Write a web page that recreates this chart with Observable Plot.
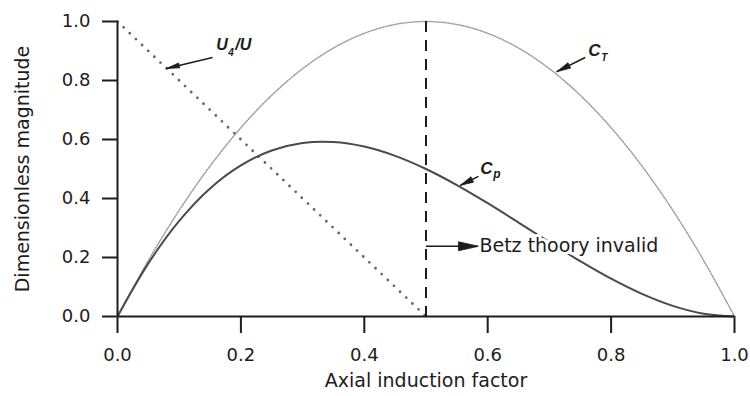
<!DOCTYPE html>
<html>
<head>
<meta charset="utf-8">
<script src="https://cdn.jsdelivr.net/npm/d3@7"></script>
<script src="https://cdn.jsdelivr.net/npm/@observablehq/plot@0.6"></script>
<style>
  html, body { margin: 0; padding: 0; background: #ffffff; }
  #chart svg [aria-label$="tick"] path, #chart svg .tick line { stroke-width: 2px; }
</style>
</head>
<body>
<div id="chart"></div>
<script>
// ---- data ----
const induction = [0, 0.05, 0.1, 0.15, 0.2, 0.25, 0.3, 0.35, 0.4, 0.45, 0.5,
                   0.55, 0.6, 0.65, 0.7, 0.75, 0.8, 0.85, 0.9, 0.95, 1.0];
const powerCoef = [0, 0.18, 0.324, 0.434, 0.512, 0.5625, 0.588, 0.5915, 0.576, 0.5445, 0.5,
                   0.4455, 0.384, 0.3185, 0.252, 0.1875, 0.128, 0.0765, 0.036, 0.0095, 0];
const thrustCoef = [0, 0.19, 0.36, 0.51, 0.64, 0.75, 0.84, 0.91, 0.96, 0.99, 1.0,
                    0.99, 0.96, 0.91, 0.84, 0.75, 0.64, 0.51, 0.36, 0.19, 0];
const wakeInduction = [0, 0.5];
const wakeVelocity = [1.0, 0];
const betzLimit = 0.5;
const xTicks = [0, 0.2, 0.4, 0.6, 0.8, 1.0];
const yTicks = [0, 0.2, 0.4, 0.6, 0.8, 1.0];
const xTitle = "Axial induction factor";
const yTitle = "Dimensionless magnitude";
const noteText = "Betz thoory invalid";

// annotation arrows (data units): from -> tip
const arrows = [
  {name: "U4/U", from: [0.154, 0.878], tip: [0.0794, 0.841], len: 13, wid: 5},
  {name: "CT",   from: [0.758, 0.878], tip: [0.712, 0.830], len: 14, wid: 6},
  {name: "Cp",   from: [0.585, 0.475], tip: [0.556, 0.445], len: 13, wid: 6},
  {name: "Betz", from: [0.5, 0.238],   tip: [0.585, 0.238], len: 20, wid: 9}
];

// ---- layout ----
const W = 750, H = 396, mL = 117, mR = 16, mT = 21, mB = 80;
const xPx = W - mL - mR, yPx = H - mT - mB;

const cpRows = induction.map((a, i) => ({a, v: powerCoef[i]}));
const ctRows = induction.map((a, i) => ({a, v: thrustCoef[i]}));
const uRows = wakeInduction.map((a, i) => ({a, v: wakeVelocity[i]}));

// arrowhead polygons built from tip + direction
const heads = [];
for (const ar of arrows) {
  const dx = (ar.tip[0] - ar.from[0]) * xPx, dy = -(ar.tip[1] - ar.from[1]) * yPx;
  const l = Math.hypot(dx, dy), ux = dx / l, uy = dy / l;
  const nx = -uy, ny = ux;
  const bx = -ux * ar.len, by = -uy * ar.len;
  const offs = [[0, 0], [bx + nx * ar.wid / 2, by + ny * ar.wid / 2], [bx - nx * ar.wid / 2, by - ny * ar.wid / 2], [0, 0]];
  for (const [ox, oy] of offs) heads.push({z: ar.name, x: ar.tip[0] + ox / xPx, y: ar.tip[1] - oy / yPx});
}

const ink = "#1c1c1c";
const labelFont = {fontFamily: "Liberation Sans", fontWeight: "bold", fontStyle: "italic", fill: ink};

const chart = Plot.plot({
  width: W, height: H,
  marginLeft: mL, marginRight: mR, marginTop: mT, marginBottom: mB,
  style: {fontFamily: "DejaVu Sans", fontSize: "18px", color: ink, background: "#ffffff", overflow: "visible"},
  x: {domain: [0, 1], ticks: xTicks, tickFormat: d3.format(".1f"), tickSize: 17, tickPadding: 15, label: null},
  y: {domain: [0, 1], ticks: yTicks, tickFormat: d3.format(".1f"), tickSize: 15, tickPadding: 12, label: null},
  marks: [
    // curves
    Plot.line(ctRows, {x: "a", y: "v", curve: "catmull-rom", stroke: "#a0a0a0", strokeWidth: 1.5, strokeDasharray: "1.5,1.5"}),
    Plot.line(uRows, {x: "a", y: "v", stroke: "#666666", strokeWidth: 2.8, strokeDasharray: "0,8.5", strokeLinecap: "round"}),
    Plot.line(cpRows, {x: "a", y: "v", curve: "catmull-rom", stroke: "#4a4a4a", strokeWidth: 2}),
    Plot.ruleX([betzLimit], {y1: 1, y2: 0, stroke: ink, strokeWidth: 2, strokeDasharray: "11,8"}),
    // axes lines
    Plot.ruleY([0], {stroke: ink, strokeWidth: 2}),
    Plot.ruleX([0], {stroke: ink, strokeWidth: 2}),
    // annotation arrows
    Plot.link(arrows, {x1: d => d.from[0], y1: d => d.from[1], x2: d => d.tip[0], y2: d => d.tip[1], stroke: ink, strokeWidth: 1.6}),
    Plot.line(heads, {x: "x", y: "y", z: "z", fill: ink, stroke: ink, strokeWidth: 0.8}),
    // note text with halo
    Plot.text([noteText], {x: arrows[3].tip[0], y: arrows[3].tip[1], text: d => d, textAnchor: "start", dx: 1,
      fontFamily: "DejaVu Sans", fontSize: 19, fill: ink, stroke: "#ffffff", strokeWidth: 6, paintOrder: "stroke"}),
    // curve labels
    Plot.text(["U"], {x: 0.160, y: 0.922, text: d => d, textAnchor: "start", fontSize: 16, ...labelFont}),
    Plot.text(["4"], {x: 0.160, y: 0.922, text: d => d, textAnchor: "start", dx: 12, dy: 8, fontSize: 10, ...labelFont}),
    Plot.text(["/U"], {x: 0.160, y: 0.922, text: d => d, textAnchor: "start", dx: 19, fontSize: 16, ...labelFont}),
    Plot.text(["C"], {x: 0.763, y: 0.902, text: d => d, textAnchor: "start", fontSize: 17, ...labelFont}),
    Plot.text(["T"], {x: 0.763, y: 0.902, text: d => d, textAnchor: "start", dx: 13, dy: 7, fontSize: 10, ...labelFont}),
    Plot.text(["C"], {x: 0.588, y: 0.502, text: d => d, textAnchor: "start", fontSize: 17, ...labelFont}),
    Plot.text(["p"], {x: 0.588, y: 0.502, text: d => d, textAnchor: "start", dx: 13, dy: 6, fontSize: 12, ...labelFont}),
    // axis titles
    Plot.text([xTitle], {text: d => d, frameAnchor: "bottom", textAnchor: "middle", dy: 70, fontSize: 19, fill: ink}),
    Plot.text([yTitle], {text: d => d, frameAnchor: "left", textAnchor: "middle", dx: -95, rotate: -90, fontSize: 19, fill: ink})
  ]
});
document.getElementById("chart").appendChild(chart);
</script>
</body>
</html>
